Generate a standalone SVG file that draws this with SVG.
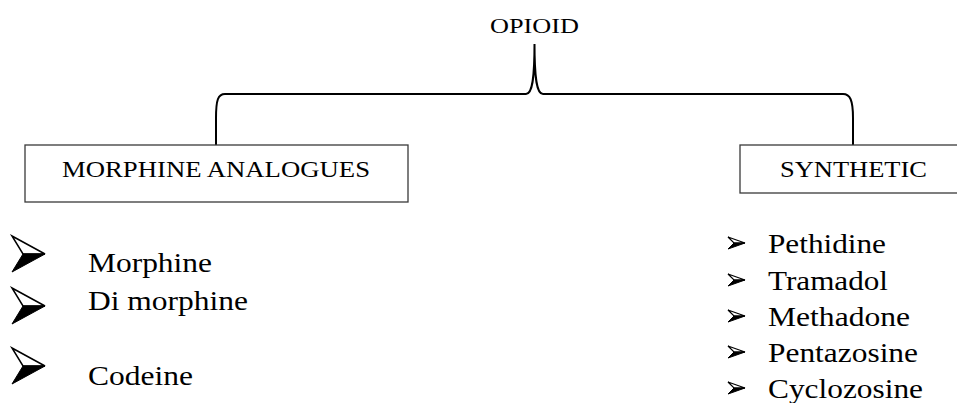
<svg xmlns="http://www.w3.org/2000/svg" width="957" height="403" viewBox="0 0 957 403">
  <style>
    text { font-family: "Liberation Serif", "Times New Roman", serif; fill: #000; }
    .title { font-size: 22px; }
    .box { fill: #fff; stroke: #3a3a3a; stroke-width: 1.3; }
    .boxlabel { font-size: 23px; }
    .item { font-size: 27px; }
    .brace { fill: none; stroke: #000; stroke-width: 2; }
  </style>
  <defs>
    <g id="bigArrow">
      <polygon points="0,0 33,18 11,18" fill="#fff" stroke="#000" stroke-width="1.5" stroke-linejoin="miter"/>
      <polygon points="11,18 33,18 0,36" fill="#000" stroke="#000" stroke-width="1"/>
    </g>
    <g id="smallArrow">
      <polygon points="0,0 17,6 6,6" fill="#fff" stroke="#000" stroke-width="1.2"/>
      <polygon points="6,6 17,6 0,12" fill="#000" stroke="#000" stroke-width="1"/>
    </g>
  </defs>
  <rect width="957" height="403" fill="#fff"/>

  <g id="connectors">
    <path class="brace" d="M 216 146 L 216 118 C 216 100 218 94 225 94 L 526 94 C 532 94 534.5 80 534.5 44 C 534.5 80 537 94 543 94 L 843 94 C 850 94 853 100 853 118 L 853 146"/>
  </g>

  <g id="opioid">
    <text class="title" x="490" y="33" textLength="89" lengthAdjust="spacingAndGlyphs">OPIOID</text>
  </g>

  <g id="morphine-analogues">
    <rect class="box" x="25" y="145" width="383" height="57"/>
    <text class="boxlabel" x="62" y="177" textLength="308" lengthAdjust="spacingAndGlyphs">MORPHINE ANALOGUES</text>
  </g>

  <g id="synthetic">
    <rect class="box" x="740" y="145" width="230" height="48"/>
    <text class="boxlabel" x="780" y="177" textLength="147" lengthAdjust="spacingAndGlyphs">SYNTHETIC</text>
  </g>

  <g id="morphine-list">
    <use href="#bigArrow" x="12" y="236"/>
    <text class="item" x="88" y="272" textLength="124" lengthAdjust="spacingAndGlyphs">Morphine</text>
    <use href="#bigArrow" x="12" y="288"/>
    <text class="item" x="88" y="310" textLength="160" lengthAdjust="spacingAndGlyphs">Di morphine</text>
    <use href="#bigArrow" x="12" y="348"/>
    <text class="item" x="88" y="385" textLength="105" lengthAdjust="spacingAndGlyphs">Codeine</text>
  </g>

  <g id="synthetic-list">
    <use href="#smallArrow" x="728" y="237"/>
    <text class="item" x="768" y="253" textLength="118" lengthAdjust="spacingAndGlyphs">Pethidine</text>
    <use href="#smallArrow" x="728" y="274"/>
    <text class="item" x="768" y="290" textLength="120" lengthAdjust="spacingAndGlyphs">Tramadol</text>
    <use href="#smallArrow" x="728" y="310"/>
    <text class="item" x="768" y="326" textLength="142" lengthAdjust="spacingAndGlyphs">Methadone</text>
    <use href="#smallArrow" x="728" y="346"/>
    <text class="item" x="768" y="362" textLength="150" lengthAdjust="spacingAndGlyphs">Pentazosine</text>
    <use href="#smallArrow" x="728" y="382"/>
    <text class="item" x="768" y="398" textLength="155" lengthAdjust="spacingAndGlyphs">Cyclozosine</text>
  </g>
</svg>
